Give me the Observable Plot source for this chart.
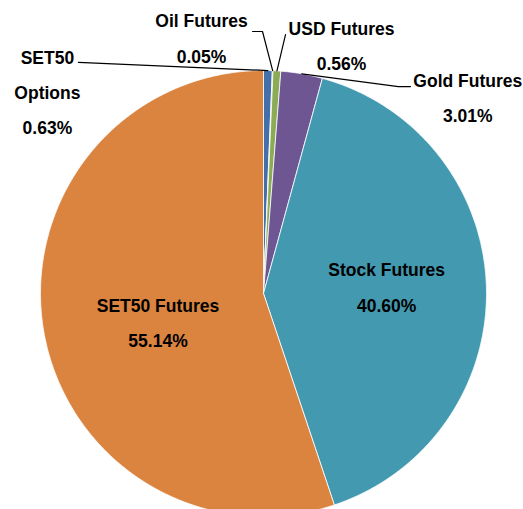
<!DOCTYPE html>
<html>
<head>
<meta charset="utf-8">
<script src="https://cdn.jsdelivr.net/npm/d3@7"></script>
<script src="https://cdn.jsdelivr.net/npm/@observablehq/plot@0.6"></script>
<style>
  html, body { margin: 0; padding: 0; background: #fff; }
  #chart { width: 523px; height: 509px; overflow: hidden; }
</style>
</head>
<body>
<div id="chart"></div>
<script>
// ---- data ----
const categories = ["SET50 Options", "Oil Futures", "USD Futures", "Gold Futures", "Stock Futures", "SET50 Futures"];
const shares = [0.63, 0.05, 0.56, 3.01, 40.60, 55.14];
const valueLabels = ["0.63%", "0.05%", "0.56%", "3.01%", "40.60%", "55.14%"];
const nameLabels = ["SET50\nOptions", "Oil Futures", "USD Futures", "Gold Futures", "Stock Futures", "SET50 Futures"];
const colors = ["#4370aa", "#c0504d", "#8bab55", "#6e5693", "#4399b0", "#da8440"];

// ---- label layout (unit-circle coordinates) ----
const labelPos = [[-0.969, 0.923], [-0.278, 1.165], [0.350, 1.132], [0.916, 0.898], [0.552, 0.049], [-0.473, -0.111]];
const leaderPath = [
  [[-0.830, 1.036]],
  [[-0.0045, 1.175], [-0.049, 1.175]],
  [[0.0987, 1.161]],
  [[0.605, 0.928], [0.659, 0.928]],
  null,
  null
];

// ---- geometry from data ----
const total = d3.sum(shares);
const slices = [];
const sliceMeta = [];
let acc = 0;
categories.forEach((name, i) => {
  const a0 = acc / total * 2 * Math.PI;
  acc += shares[i];
  const a1 = acc / total * 2 * Math.PI;
  sliceMeta.push({name, a0, a1, mid: (a0 + a1) / 2});
  const n = Math.max(2, Math.ceil((a1 - a0) / 0.005) + 1);
  slices.push({name, x: 0, y: 0});
  for (let k = 0; k < n; k++) {
    const a = a0 + (a1 - a0) * k / (n - 1);
    slices.push({name, x: Math.sin(a), y: Math.cos(a)});
  }
  slices.push({name, x: 0, y: 0});
});

const leaders = [];
sliceMeta.forEach((s, i) => {
  if (!leaderPath[i]) return;
  leaders.push({name: s.name, x: Math.sin(s.mid), y: Math.cos(s.mid)});
  leaderPath[i].forEach(([x, y]) => leaders.push({name: s.name, x, y}));
});

const texts = categories.map((name, i) => ({
  name,
  x: labelPos[i][0],
  y: labelPos[i][1],
  text: nameLabels[i] + "\n" + valueLabels[i]
}));

const chart = Plot.plot({
  width: 523,
  height: 509,
  margin: 0,
  style: {background: "#fff", overflow: "hidden"},
  x: {domain: [-1, 1], range: [40, 486], axis: null},
  y: {domain: [-1, 1], range: [516, 70], axis: null},
  color: {domain: categories, range: colors},
  marks: [
    Plot.line(slices, {x: "x", y: "y", z: "name", fill: "name", stroke: "#fff", strokeWidth: 0.8, curve: "linear"}),
    Plot.line(leaders, {x: "x", y: "y", z: "name", stroke: "#000", strokeWidth: 1.2, curve: "linear"}),
    Plot.text(texts, {
      x: "x", y: "y", text: "text",
      fontFamily: "'Liberation Sans', Arial, sans-serif",
      fontWeight: "bold",
      fontSize: 17.5,
      lineHeight: 2.02,
      fill: "#000"
    })
  ]
});
document.getElementById("chart").appendChild(chart);
</script>
</body>
</html>
